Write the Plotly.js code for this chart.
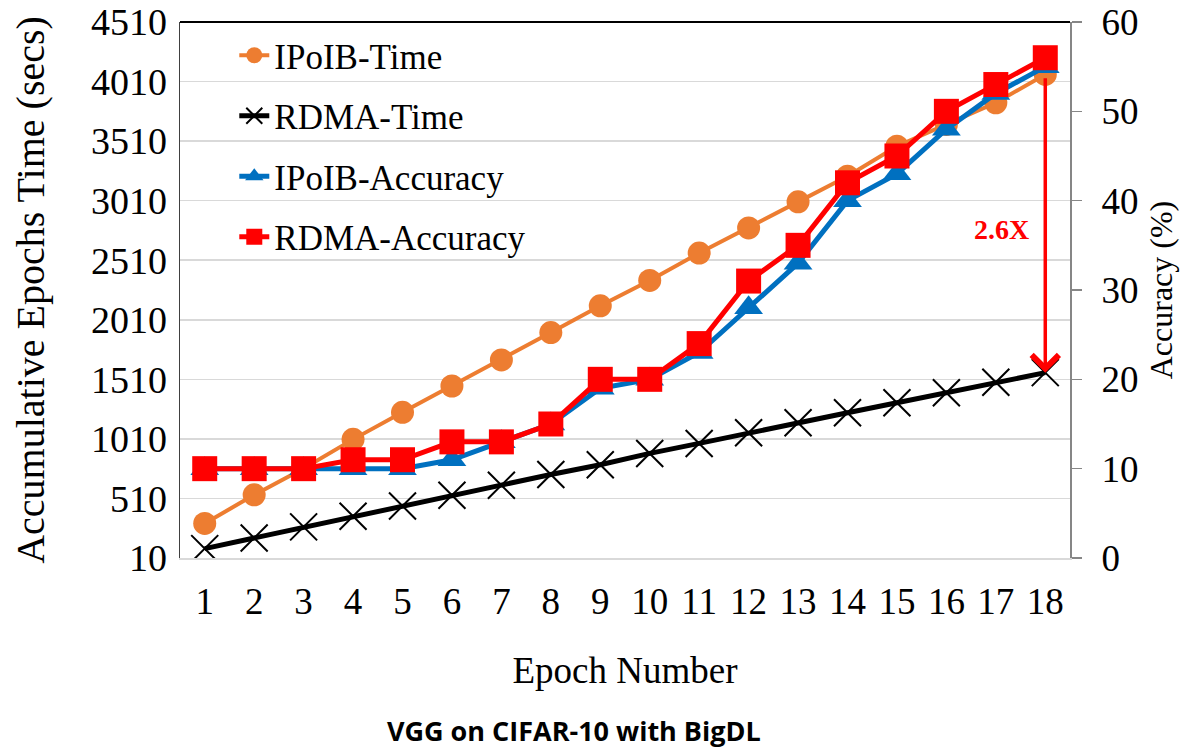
<!DOCTYPE html>
<html>
<head>
<meta charset="utf-8">
<script src="https://cdn.plot.ly/plotly-3.0.1.min.js"></script>
<style>html,body{margin:0;padding:0;background:#fff;}#chart{width:1193px;height:754px;}</style>
</head>
<body>
<div id="chart"></div>
<script>
const epochs = [1,2,3,4,5,6,7,8,9,10,11,12,13,14,15,16,17,18];
const ipoibTime = [300,540,762,1006,1233,1454,1673,1903,2127,2340,2570,2781,3000,3215,3467,3650,3832,4070];
const rdmaTime = [89,178,271,361,447,537,621,711,793,888,972,1061,1145,1230,1314,1398,1485,1566];
const ipoibAcc = [10,10,10,10,10,11,13,15,19,20,23,28,33,40,43,48,52,55];
const rdmaAcc = [10,10,10,11,11,13,13,15,20,20,24,31,35,42,45,50,53,56];
const leftTicks = [10,510,1010,1510,2010,2510,3010,3510,4010,4510];
const rightTicks = [0,10,20,30,40,50,60];
const speedupLabel = '2.6X';

const serif = 'Liberation Serif, Times New Roman, serif';

const traces = [
  {x: epochs, y: ipoibTime, name: 'IPoIB-Time', type: 'scatter', mode: 'lines+markers', legendgroup: 'a',
   line: {color: '#ED7D31', width: 4}, marker: {symbol: 'circle', size: 23, color: '#ED7D31'}},
  {x: epochs, y: rdmaTime, name: 'RDMA-Time', type: 'scatter', mode: 'lines+markers', legendgroup: 'b',
   line: {color: '#000000', width: 5}, marker: {symbol: 'x-thin-open', size: 27, color: '#000000', line: {color: '#000000', width: 2}}},
  {x: epochs, y: ipoibAcc, name: 'IPoIB-Accuracy', type: 'scatter', mode: 'lines+markers', yaxis: 'y2', legendgroup: 'c',
   line: {color: '#0070C0', width: 5}, marker: {symbol: 'triangle-up', size: 25, color: '#0070C0'}},
  {x: epochs, y: rdmaAcc, name: 'RDMA-Accuracy', type: 'scatter', mode: 'lines+markers', yaxis: 'y2', legendgroup: 'd',
   line: {color: '#FF0000', width: 5}, marker: {symbol: 'square', size: 25, color: '#FF0000'}}
];

const layout = {
  width: 1193, height: 754,
  margin: {l: 180, r: 123, t: 22, b: 196},
  paper_bgcolor: '#ffffff', plot_bgcolor: '#ffffff',
  font: {family: serif, color: '#000000', size: 36},
  showlegend: true,
  legend: {x: 0.061, y: 0.9925, xanchor: 'left', yanchor: 'top', bgcolor: 'rgba(0,0,0,0)',
           font: {family: serif, size: 35, color: '#000'}, tracegroupgap: 12, itemwidth: 30},
  xaxis: {range: [0.5, 18.5], tickvals: epochs, ticktext: epochs.map(String), showgrid: false, zeroline: false,
          showline: true, linecolor: '#D9D9D9', linewidth: 1.5, ticks: '', tickfont: {family: serif, size: 37},
          ticklabelstandoff: 10,
          title: {text: 'Epoch Number', font: {family: serif, size: 37}, standoff: 36}},
  yaxis: {range: [10, 4510], tickvals: leftTicks, ticktext: leftTicks.map(String), showgrid: true, gridcolor: '#D9D9D9', gridwidth: 1.5,
          zeroline: false, showline: true, linecolor: '#404040', linewidth: 1.5, ticks: '', tickfont: {family: serif, size: 38},
          ticklabelstandoff: 4,
          title: {text: 'Accumulative Epochs Time (secs)', font: {family: serif, size: 40}, standoff: 34}},
  yaxis2: {range: [0, 60], tickvals: rightTicks, ticktext: rightTicks.map(String), overlaying: 'y', side: 'right', showgrid: false,
           zeroline: false, showline: true, linecolor: '#868686', linewidth: 2, ticks: 'outside', ticklen: 10, tickwidth: 1.5,
           tickcolor: '#868686', tickfont: {family: serif, size: 37}, ticklabelstandoff: 12,
           title: {text: 'Accuracy (%)', font: {family: serif, size: 32}, standoff: 12}},
  shapes: [
    {type: 'line', xref: 'paper', yref: 'paper', x0: 0, x1: 1, y0: 1, y1: 1, line: {color: '#000000', width: 2}}
  ],
  annotations: [
    {x: epochs[17], y: rdmaTime[17], ax: epochs[17], ay: ipoibTime[17] - 20, xref: 'x', yref: 'y', axref: 'x', ayref: 'y',
     text: '', showarrow: true, arrowcolor: '#FF0000', arrowwidth: 3.5, arrowhead: 4, arrowsize: 1.5, standoff: 0},
    {x: 17.12, y: 2766, xref: 'x', yref: 'y', text: '<b>' + speedupLabel + '</b>', showarrow: false,
     font: {family: serif, size: 28, color: '#FF0000'}}
  ],
  title: {text: '<b>VGG on CIFAR-10 with BigDL</b>', font: {family: 'Open Sans, sans-serif', size: 27, color: '#000'},
          x: 0.481, xref: 'container', xanchor: 'center', y: 0.03, yref: 'container', yanchor: 'middle'}
};

Plotly.newPlot('chart', traces, layout, {displayModeBar: false, staticPlot: true});
</script>
</body>
</html>
